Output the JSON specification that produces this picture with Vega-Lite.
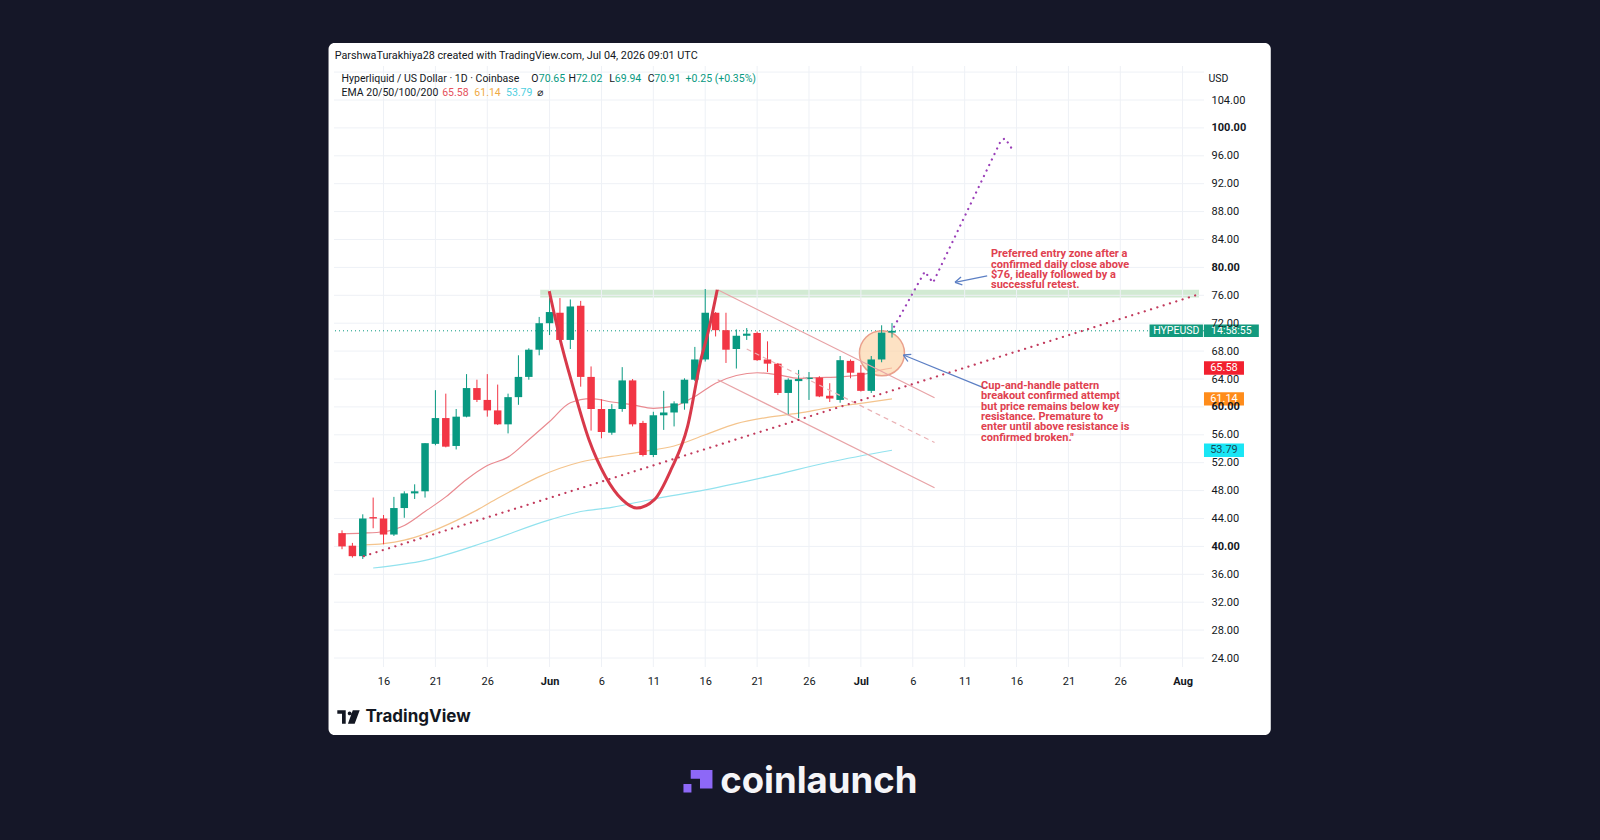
{
  "$schema": "https://vega.github.io/schema/vega-lite/v6.json",
  "width": 870,
  "height": 601,
  "autosize": {"type": "none"},
  "padding": {"left": 334, "top": 66, "right": 396, "bottom": 173},
  "background": "#151728",
  "view": {"stroke": null, "fill": null},
  "datasets": {
    "candles": [
      {"date": "2026-05-12", "open": 41.9, "high": 42.3, "low": 39.6, "close": 40.0},
      {"date": "2026-05-13", "open": 40.1, "high": 40.5, "low": 38.4, "close": 38.6},
      {"date": "2026-05-14", "open": 38.6, "high": 44.6, "low": 38.2, "close": 44.0},
      {"date": "2026-05-15", "open": 44.2, "high": 47.0, "low": 42.6, "close": 44.0},
      {"date": "2026-05-16", "open": 44.0, "high": 44.5, "low": 40.3, "close": 41.7},
      {"date": "2026-05-17", "open": 41.7, "high": 47.1, "low": 41.5, "close": 45.5},
      {"date": "2026-05-18", "open": 45.5, "high": 47.9, "low": 44.1, "close": 47.6},
      {"date": "2026-05-19", "open": 47.6, "high": 48.9, "low": 46.8, "close": 47.9},
      {"date": "2026-05-20", "open": 47.9, "high": 54.8, "low": 47.0, "close": 54.8},
      {"date": "2026-05-21", "open": 54.7, "high": 62.4, "low": 54.5, "close": 58.4},
      {"date": "2026-05-22", "open": 58.4, "high": 61.9, "low": 54.2, "close": 54.3},
      {"date": "2026-05-23", "open": 54.4, "high": 59.7, "low": 53.9, "close": 58.6},
      {"date": "2026-05-24", "open": 58.6, "high": 64.7, "low": 58.5, "close": 62.7},
      {"date": "2026-05-25", "open": 62.7, "high": 63.9, "low": 60.7, "close": 61.0},
      {"date": "2026-05-26", "open": 61.0, "high": 64.7, "low": 58.6, "close": 59.5},
      {"date": "2026-05-27", "open": 59.5, "high": 63.2, "low": 57.4, "close": 57.5},
      {"date": "2026-05-28", "open": 57.5, "high": 61.9, "low": 56.2, "close": 61.4},
      {"date": "2026-05-29", "open": 61.4, "high": 67.4, "low": 60.3, "close": 64.3},
      {"date": "2026-05-30", "open": 64.3, "high": 68.4, "low": 63.9, "close": 68.2},
      {"date": "2026-05-31", "open": 68.2, "high": 72.9, "low": 67.4, "close": 72.0},
      {"date": "2026-06-01", "open": 72.0, "high": 75.6, "low": 70.3, "close": 73.6},
      {"date": "2026-06-02", "open": 73.5, "high": 75.6, "low": 69.4, "close": 69.6},
      {"date": "2026-06-03", "open": 69.6, "high": 75.4, "low": 68.3, "close": 74.4},
      {"date": "2026-06-04", "open": 74.5, "high": 75.2, "low": 62.9, "close": 64.3},
      {"date": "2026-06-05", "open": 64.3, "high": 65.8, "low": 56.6, "close": 59.7},
      {"date": "2026-06-06", "open": 59.7, "high": 61.1, "low": 55.5, "close": 56.4},
      {"date": "2026-06-07", "open": 56.3, "high": 60.4, "low": 56.0, "close": 59.7},
      {"date": "2026-06-08", "open": 59.7, "high": 65.7, "low": 59.3, "close": 63.8},
      {"date": "2026-06-09", "open": 63.8, "high": 64.0, "low": 57.2, "close": 57.5},
      {"date": "2026-06-10", "open": 57.7, "high": 58.0, "low": 52.9, "close": 53.1},
      {"date": "2026-06-11", "open": 53.1, "high": 59.3, "low": 52.8, "close": 58.8},
      {"date": "2026-06-12", "open": 58.8, "high": 62.3, "low": 56.7, "close": 59.2},
      {"date": "2026-06-13", "open": 59.2, "high": 60.8, "low": 57.2, "close": 60.5},
      {"date": "2026-06-14", "open": 60.5, "high": 64.1, "low": 59.6, "close": 63.9},
      {"date": "2026-06-15", "open": 63.9, "high": 68.6, "low": 63.7, "close": 66.8},
      {"date": "2026-06-16", "open": 66.8, "high": 76.9, "low": 66.5, "close": 73.5},
      {"date": "2026-06-17", "open": 73.5, "high": 73.6, "low": 70.1, "close": 71.0},
      {"date": "2026-06-18", "open": 71.0, "high": 73.5, "low": 66.3, "close": 68.2},
      {"date": "2026-06-19", "open": 68.3, "high": 71.1, "low": 65.5, "close": 70.2},
      {"date": "2026-06-20", "open": 70.2, "high": 71.3, "low": 69.6, "close": 70.5},
      {"date": "2026-06-21", "open": 70.6, "high": 70.8, "low": 66.6, "close": 66.7},
      {"date": "2026-06-22", "open": 66.8, "high": 69.4, "low": 65.0, "close": 66.2},
      {"date": "2026-06-23", "open": 66.2, "high": 66.3, "low": 61.7, "close": 62.0},
      {"date": "2026-06-24", "open": 62.0, "high": 64.1, "low": 58.8, "close": 63.9},
      {"date": "2026-06-25", "open": 63.7, "high": 65.3, "low": 58.4, "close": 64.0},
      {"date": "2026-06-26", "open": 64.0, "high": 65.0, "low": 61.0, "close": 64.2},
      {"date": "2026-06-27", "open": 64.2, "high": 64.4, "low": 61.4, "close": 61.5},
      {"date": "2026-06-28", "open": 61.6, "high": 63.4, "low": 60.7, "close": 61.2},
      {"date": "2026-06-29", "open": 61.0, "high": 67.3, "low": 60.6, "close": 66.7},
      {"date": "2026-06-30", "open": 66.6, "high": 66.8, "low": 64.1, "close": 64.9},
      {"date": "2026-07-01", "open": 64.9, "high": 66.0, "low": 62.2, "close": 62.3},
      {"date": "2026-07-02", "open": 62.3, "high": 67.3, "low": 62.0, "close": 66.8},
      {"date": "2026-07-03", "open": 66.8, "high": 71.7, "low": 66.4, "close": 70.65},
      {"date": "2026-07-04", "open": 70.65, "high": 72.02, "low": 69.94, "close": 70.91}
    ],
    "ema": [
      {"date": "2026-05-12", "ema": 41.8, "series": "EMA 20"},
      {"date": "2026-05-14", "ema": 41.9, "series": "EMA 20"},
      {"date": "2026-05-16", "ema": 42.1, "series": "EMA 20"},
      {"date": "2026-05-18", "ema": 43.0, "series": "EMA 20"},
      {"date": "2026-05-20", "ema": 45.0, "series": "EMA 20"},
      {"date": "2026-05-22", "ema": 47.1, "series": "EMA 20"},
      {"date": "2026-05-24", "ema": 49.6, "series": "EMA 20"},
      {"date": "2026-05-26", "ema": 51.6, "series": "EMA 20"},
      {"date": "2026-05-28", "ema": 52.8, "series": "EMA 20"},
      {"date": "2026-05-30", "ema": 55.3, "series": "EMA 20"},
      {"date": "2026-06-01", "ema": 57.9, "series": "EMA 20"},
      {"date": "2026-06-03", "ema": 60.6, "series": "EMA 20"},
      {"date": "2026-06-05", "ema": 61.2, "series": "EMA 20"},
      {"date": "2026-06-07", "ema": 60.7, "series": "EMA 20"},
      {"date": "2026-06-09", "ema": 60.3, "series": "EMA 20"},
      {"date": "2026-06-11", "ema": 59.8, "series": "EMA 20"},
      {"date": "2026-06-13", "ema": 60.1, "series": "EMA 20"},
      {"date": "2026-06-15", "ema": 61.5, "series": "EMA 20"},
      {"date": "2026-06-17", "ema": 63.4, "series": "EMA 20"},
      {"date": "2026-06-19", "ema": 64.5, "series": "EMA 20"},
      {"date": "2026-06-21", "ema": 64.9, "series": "EMA 20"},
      {"date": "2026-06-23", "ema": 64.6, "series": "EMA 20"},
      {"date": "2026-06-25", "ema": 64.1, "series": "EMA 20"},
      {"date": "2026-06-27", "ema": 64.2, "series": "EMA 20"},
      {"date": "2026-06-29", "ema": 64.3, "series": "EMA 20"},
      {"date": "2026-07-01", "ema": 64.6, "series": "EMA 20"},
      {"date": "2026-07-03", "ema": 65.3, "series": "EMA 20"},
      {"date": "2026-07-04", "ema": 65.58, "series": "EMA 20"},
      {"date": "2026-05-14", "ema": 40.2, "series": "EMA 50"},
      {"date": "2026-05-16", "ema": 40.4, "series": "EMA 50"},
      {"date": "2026-05-18", "ema": 40.9, "series": "EMA 50"},
      {"date": "2026-05-20", "ema": 41.8, "series": "EMA 50"},
      {"date": "2026-05-23", "ema": 43.7, "series": "EMA 50"},
      {"date": "2026-05-25", "ema": 45.2, "series": "EMA 50"},
      {"date": "2026-05-27", "ema": 46.9, "series": "EMA 50"},
      {"date": "2026-05-29", "ema": 48.5, "series": "EMA 50"},
      {"date": "2026-05-31", "ema": 50.0, "series": "EMA 50"},
      {"date": "2026-06-02", "ema": 51.2, "series": "EMA 50"},
      {"date": "2026-06-04", "ema": 52.1, "series": "EMA 50"},
      {"date": "2026-06-07", "ema": 52.9, "series": "EMA 50"},
      {"date": "2026-06-10", "ema": 53.6, "series": "EMA 50"},
      {"date": "2026-06-13", "ema": 54.4, "series": "EMA 50"},
      {"date": "2026-06-16", "ema": 56.0, "series": "EMA 50"},
      {"date": "2026-06-19", "ema": 57.6, "series": "EMA 50"},
      {"date": "2026-06-22", "ema": 58.5, "series": "EMA 50"},
      {"date": "2026-06-25", "ema": 59.1, "series": "EMA 50"},
      {"date": "2026-06-28", "ema": 59.9, "series": "EMA 50"},
      {"date": "2026-07-01", "ema": 60.5, "series": "EMA 50"},
      {"date": "2026-07-04", "ema": 61.14, "series": "EMA 50"},
      {"date": "2026-05-15", "ema": 36.9, "series": "EMA 100"},
      {"date": "2026-05-20", "ema": 38.0, "series": "EMA 100"},
      {"date": "2026-05-26", "ema": 40.7, "series": "EMA 100"},
      {"date": "2026-06-01", "ema": 43.8, "series": "EMA 100"},
      {"date": "2026-06-04", "ema": 45.0, "series": "EMA 100"},
      {"date": "2026-06-07", "ema": 45.6, "series": "EMA 100"},
      {"date": "2026-06-11", "ema": 46.8, "series": "EMA 100"},
      {"date": "2026-06-16", "ema": 48.1, "series": "EMA 100"},
      {"date": "2026-06-22", "ema": 50.0, "series": "EMA 100"},
      {"date": "2026-06-28", "ema": 52.1, "series": "EMA 100"},
      {"date": "2026-07-04", "ema": 53.79, "series": "EMA 100"}
    ],
    "drawings": [
      {"shape": "cup", "t": "2026-05-31T23:17:00Z", "p": 76.6},
      {"shape": "cup", "t": "2026-06-02T00:00:00Z", "p": 69.8},
      {"shape": "cup", "t": "2026-06-03T04:48:00Z", "p": 63.2},
      {"shape": "cup", "t": "2026-06-04T19:12:00Z", "p": 55.3},
      {"shape": "cup", "t": "2026-06-06T09:36:00Z", "p": 50.0},
      {"shape": "cup", "t": "2026-06-08T00:00:00Z", "p": 46.7},
      {"shape": "cup", "t": "2026-06-09T09:36:00Z", "p": 45.5},
      {"shape": "cup", "t": "2026-06-11T02:24:00Z", "p": 46.7},
      {"shape": "cup", "t": "2026-06-12T16:48:00Z", "p": 51.0},
      {"shape": "cup", "t": "2026-06-14T07:12:00Z", "p": 57.2},
      {"shape": "cup", "t": "2026-06-15T13:41:00Z", "p": 66.7},
      {"shape": "cup", "t": "2026-06-16T07:55:00Z", "p": 71.0},
      {"shape": "cup", "t": "2026-06-17T03:50:00Z", "p": 76.8},
      {"shape": "upper", "t": "2026-06-17T04:48:00Z", "p": 76.8},
      {"shape": "upper", "t": "2026-07-08T02:24:00Z", "p": 61.3},
      {"shape": "lower", "t": "2026-06-17T04:48:00Z", "p": 63.9},
      {"shape": "lower", "t": "2026-07-08T02:24:00Z", "p": 48.4},
      {"shape": "median", "t": "2026-06-20T00:00:00Z", "p": 68.3},
      {"shape": "median", "t": "2026-07-08T02:24:00Z", "p": 54.9},
      {"shape": "support", "t": "2026-05-14T02:24:00Z", "p": 38.6},
      {"shape": "support", "t": "2026-08-02T13:12:00Z", "p": 76.13},
      {"shape": "path", "t": "2026-07-04T04:48:00Z", "p": 71.5},
      {"shape": "path", "t": "2026-07-07T03:50:00Z", "p": 79.4},
      {"shape": "path", "t": "2026-07-07T22:48:00Z", "p": 77.8},
      {"shape": "path", "t": "2026-07-14T12:00:00Z", "p": 98.2},
      {"shape": "path", "t": "2026-07-14T21:36:00Z", "p": 98.5},
      {"shape": "path", "t": "2026-07-15T14:24:00Z", "p": 96.9},
      {"shape": "arrow1", "t": "2026-07-13T04:05:00Z", "p": 78.77},
      {"shape": "arrow1", "t": "2026-07-10T01:41:00Z", "p": 77.86},
      {"shape": "arrow1a", "t": "2026-07-10T18:43:00Z", "p": 77.48},
      {"shape": "arrow1a", "t": "2026-07-10T01:41:00Z", "p": 77.86},
      {"shape": "arrow1b", "t": "2026-07-10T15:36:00Z", "p": 78.61},
      {"shape": "arrow1b", "t": "2026-07-10T01:41:00Z", "p": 77.86},
      {"shape": "arrow2", "t": "2026-07-12T23:31:00Z", "p": 62.67},
      {"shape": "arrow2", "t": "2026-07-05T02:24:00Z", "p": 67.44},
      {"shape": "arrow2a", "t": "2026-07-05T12:43:00Z", "p": 66.51},
      {"shape": "arrow2a", "t": "2026-07-05T02:24:00Z", "p": 67.44},
      {"shape": "arrow2b", "t": "2026-07-05T20:38:00Z", "p": 67.54},
      {"shape": "arrow2b", "t": "2026-07-05T02:24:00Z", "p": 67.44}
    ],
    "notes": [
      {"note": "Preferred entry zone after a\nconfirmed daily close above\n$76, ideally followed by a\nsuccessful retest.", "t": "2026-07-13T13:00:00Z", "p": 82.75},
      {"note": "Cup-and-handle pattern\nbreakout confirmed attempt\nbut price remains below key\nresistance. Premature to\nenter until above resistance is\nconfirmed broken.\"", "t": "2026-07-12T14:00:00Z", "p": 63.85}
    ],
    "legend": [
      {"txt": "Hyperliquid / US Dollar · 1D · Coinbase", "t": "2026-05-11T23:00:00Z", "p": 107.0, "tone": "base"},
      {"txt": "O", "t": "2026-05-30T05:31:00Z", "p": 107.0, "tone": "base"},
      {"txt": "70.65", "t": "2026-05-30T23:02:00Z", "p": 107.0, "tone": "up"},
      {"txt": "H", "t": "2026-06-02T19:55:00Z", "p": 107.0, "tone": "base"},
      {"txt": "72.02", "t": "2026-06-03T12:58:00Z", "p": 107.0, "tone": "up"},
      {"txt": "L", "t": "2026-06-06T17:46:00Z", "p": 107.0, "tone": "base"},
      {"txt": "69.94", "t": "2026-06-07T06:58:00Z", "p": 107.0, "tone": "up"},
      {"txt": "C", "t": "2026-06-10T10:48:00Z", "p": 107.0, "tone": "base"},
      {"txt": "70.91", "t": "2026-06-11T02:10:00Z", "p": 107.0, "tone": "up"},
      {"txt": "+0.25 (+0.35%)", "t": "2026-06-14T02:38:00Z", "p": 107.0, "tone": "up"},
      {"txt": "EMA 20/50/100/200", "t": "2026-05-11T23:00:00Z", "p": 104.96, "tone": "base"},
      {"txt": "65.58", "t": "2026-05-21T15:40:00Z", "p": 104.96, "tone": "ema20"},
      {"txt": "61.14", "t": "2026-05-24T18:00:00Z", "p": 104.96, "tone": "ema50"},
      {"txt": "53.79", "t": "2026-05-27T19:12:00Z", "p": 104.96, "tone": "ema100"},
      {"txt": "⌀", "t": "2026-05-30T19:26:00Z", "p": 104.96, "tone": "base"}
    ],
    "header": [
      {"txt": "ParshwaTurakhiya28 created with TradingView.com, Jul 04, 2026 09:01 UTC", "t": "2026-05-11T07:00:00Z", "p": 110.38}
    ],
    "tags": [
      {"label": "65.58", "p": 65.58, "kind": "EMA 20"},
      {"label": "61.14", "p": 61.14, "kind": "EMA 50"},
      {"label": "53.79", "p": 53.79, "kind": "EMA 100"}
    ],
    "ticker": [{"sym": "HYPEUSD", "clock": "14:58:55", "p": 70.91}],
    "zones": [{"t": "2026-05-31T02:24:00Z", "t2": "2026-08-02T14:00:00Z", "hi": 76.8, "lo": 75.7}],
    "circles": [{"t": "2026-07-03T00:43:00Z", "p": 67.7}],
    "gridP": [
      {"p": 24}, {"p": 28}, {"p": 32}, {"p": 36}, {"p": 40}, {"p": 44}, {"p": 48}, {"p": 52},
      {"p": 56}, {"p": 60}, {"p": 64}, {"p": 68}, {"p": 72}, {"p": 76}, {"p": 80}, {"p": 84},
      {"p": 88}, {"p": 92}, {"p": 96}, {"p": 100}, {"p": 104}, {"p": 108}
    ],
    "gridT": [
      {"t": "2026-05-16"}, {"t": "2026-05-21"}, {"t": "2026-05-26"}, {"t": "2026-06-01"},
      {"t": "2026-06-06"}, {"t": "2026-06-11"}, {"t": "2026-06-16"}, {"t": "2026-06-21"},
      {"t": "2026-06-26"}, {"t": "2026-07-01"}, {"t": "2026-07-06"}, {"t": "2026-07-11"},
      {"t": "2026-07-16"}, {"t": "2026-07-21"}, {"t": "2026-07-26"}, {"t": "2026-08-01"}
    ],
    "brand": [
      {"name": "TradingView", "t": "2026-05-14T06:00:00Z", "p": 15.54, "logoT": "2026-05-12T15:00:00Z"},
      {"name": "coinlaunch", "t": "2026-06-17T10:34:00Z", "p": 4.65, "logoT": "2026-06-15T07:12:00Z"}
    ]
  },
  "layer": [
    {
      "data": {"values": [{"panel": "card"}]},
      "mark": {"type": "rect", "color": "#ffffff", "cornerRadius": 6, "clip": false},
      "encoding": {
        "x": {
          "datum": {"year": 2026, "month": "may", "date": 10, "hours": 16, "minutes": 48, "utc": true},
          "type": "temporal",
          "scale": {
            "type": "utc",
            "domain": [
              {"year": 2026, "month": "may", "date": 11, "hours": 17, "utc": true},
              {"year": 2026, "month": "aug", "date": 2, "hours": 14, "utc": true}
            ]
          },
          "axis": {
            "values": [
              {"year": 2026, "month": "may", "date": 16, "utc": true},
              {"year": 2026, "month": "may", "date": 21, "utc": true},
              {"year": 2026, "month": "may", "date": 26, "utc": true},
              {"year": 2026, "month": "jun", "date": 1, "utc": true},
              {"year": 2026, "month": "jun", "date": 6, "utc": true},
              {"year": 2026, "month": "jun", "date": 11, "utc": true},
              {"year": 2026, "month": "jun", "date": 16, "utc": true},
              {"year": 2026, "month": "jun", "date": 21, "utc": true},
              {"year": 2026, "month": "jun", "date": 26, "utc": true},
              {"year": 2026, "month": "jul", "date": 1, "utc": true},
              {"year": 2026, "month": "jul", "date": 6, "utc": true},
              {"year": 2026, "month": "jul", "date": 11, "utc": true},
              {"year": 2026, "month": "jul", "date": 16, "utc": true},
              {"year": 2026, "month": "jul", "date": 21, "utc": true},
              {"year": 2026, "month": "jul", "date": 26, "utc": true},
              {"year": 2026, "month": "aug", "date": 1, "utc": true}
            ],
            "tickCount": 40,
            "labelExpr": "utcdate(datum.value) == 1 ? utcFormat(datum.value, '%b') : utcFormat(datum.value, '%-d')",
            "labelFontWeight": {"condition": {"test": "utcdate(datum.value) == 1", "value": "bold"}, "value": "normal"},
            "labelFontSize": 11,
            "labelColor": "#131722",
            "labelPadding": 8,
            "ticks": false,
            "domain": false,
            "grid": false,
            "title": null,
            "labelOverlap": false,
            "labelFlush": false,
            "zindex": 1
          }
        },
        "x2": {"datum": {"year": 2026, "month": "aug", "date": 9, "hours": 12, "utc": true}},
        "y": {
          "datum": 112.17,
          "type": "quantitative",
          "scale": {"domain": [22.71, 108.875], "nice": false, "zero": false},
          "axis": {
            "orient": "right",
            "values": [24, 28, 32, 36, 40, 44, 48, 52, 56, 60, 64, 68, 72, 76, 80, 84, 88, 92, 96, 100, 104],
            "tickCount": 40,
            "format": ".2f",
            "labelFontSize": 11,
            "labelColor": "#131722",
            "labelPadding": 7,
            "labelOverlap": false,
            "labelFontWeight": {"condition": {"test": "datum.value % 20 == 0", "value": "bold"}, "value": "normal"},
            "ticks": false,
            "domain": false,
            "grid": false,
            "title": null,
            "zindex": 1
          }
        },
        "y2": {"datum": 12.96}
      }
    },
    {
      "data": {"name": "zones"},
      "mark": {"type": "rect", "color": "#a5d6a7", "opacity": 0.5},
      "encoding": {
        "x": {"field": "t", "type": "temporal"},
        "x2": {"field": "t2"},
        "y": {"field": "hi", "type": "quantitative"},
        "y2": {"field": "lo"}
      }
    },
    {
      "data": {"name": "gridP"},
      "mark": {"type": "rule", "color": "#eef1f6", "strokeWidth": 1},
      "encoding": {"y": {"field": "p", "type": "quantitative"}}
    },
    {
      "data": {"name": "gridT"},
      "mark": {"type": "rule", "color": "#eef1f6", "strokeWidth": 1},
      "encoding": {"x": {"field": "t", "type": "temporal"}}
    },
    {
      "data": {"name": "ticker"},
      "mark": {"type": "rule", "color": "#089981", "strokeWidth": 1, "strokeDash": [1, 3]},
      "encoding": {"y": {"field": "p", "type": "quantitative"}}
    },
    {
      "data": {"name": "ema"},
      "mark": {"type": "line", "strokeWidth": 1.2, "interpolate": "monotone"},
      "encoding": {
        "x": {"field": "date", "type": "temporal"},
        "y": {"field": "ema", "type": "quantitative"},
        "detail": {"field": "series"},
        "stroke": {
          "field": "series",
          "type": "nominal",
          "scale": {"domain": ["EMA 20", "EMA 50", "EMA 100"], "range": ["#e98a90", "#f4c48d", "#92e2ee"]},
          "legend": null
        }
      }
    },
    {
      "data": {"name": "circles"},
      "mark": {"type": "point", "shape": "circle", "size": 2025, "filled": true, "fill": "#fcd3a5", "fillOpacity": 0.65, "stroke": "#eaa08c", "strokeWidth": 1.5, "strokeOpacity": 1},
      "encoding": {
        "x": {"field": "t", "type": "temporal"},
        "y": {"field": "p", "type": "quantitative"}
      }
    },
    {
      "data": {"name": "candles"},
      "mark": {"type": "rule", "strokeWidth": 1},
      "encoding": {
        "x": {"field": "date", "type": "temporal"},
        "y": {"field": "low", "type": "quantitative"},
        "y2": {"field": "high"},
        "color": {"condition": {"test": "datum.close >= datum.open", "value": "#089981"}, "value": "#f23645"}
      }
    },
    {
      "data": {"name": "candles"},
      "mark": {"type": "bar", "width": 7.5},
      "encoding": {
        "x": {"field": "date", "type": "temporal"},
        "y": {"field": "open", "type": "quantitative"},
        "y2": {"field": "close"},
        "color": {"condition": {"test": "datum.close >= datum.open", "value": "#089981"}, "value": "#f23645"}
      }
    },
    {
      "data": {"name": "drawings"},
      "transform": [{"filter": {"field": "shape", "oneOf": ["upper", "lower"]}}],
      "mark": {"type": "line", "color": "#e8a3a6", "strokeWidth": 1.2},
      "encoding": {
        "x": {"field": "t", "type": "temporal"},
        "y": {"field": "p", "type": "quantitative"},
        "detail": {"field": "shape"}
      }
    },
    {
      "data": {"name": "drawings"},
      "transform": [{"filter": {"field": "shape", "equal": "median"}}],
      "mark": {"type": "line", "color": "#eab2b5", "strokeWidth": 1.2, "strokeDash": [5, 4]},
      "encoding": {
        "x": {"field": "t", "type": "temporal"},
        "y": {"field": "p", "type": "quantitative"}
      }
    },
    {
      "data": {"name": "drawings"},
      "transform": [{"filter": {"field": "shape", "equal": "support"}}],
      "mark": {"type": "line", "color": "#c23a5c", "strokeWidth": 2.2, "strokeDash": [0.1, 6.5], "strokeCap": "round", "clip": true},
      "encoding": {
        "x": {"field": "t", "type": "temporal"},
        "y": {"field": "p", "type": "quantitative"}
      }
    },
    {
      "data": {"name": "drawings"},
      "transform": [{"filter": {"field": "shape", "equal": "path"}}],
      "mark": {"type": "line", "color": "#9a3fb8", "strokeWidth": 2.2, "strokeDash": [0.1, 6], "strokeCap": "round"},
      "encoding": {
        "x": {"field": "t", "type": "temporal"},
        "y": {"field": "p", "type": "quantitative"}
      }
    },
    {
      "data": {"name": "drawings"},
      "transform": [{"filter": {"field": "shape", "equal": "cup"}}],
      "mark": {"type": "line", "color": "#d8394a", "strokeWidth": 3, "interpolate": "monotone"},
      "encoding": {
        "x": {"field": "t", "type": "temporal"},
        "y": {"field": "p", "type": "quantitative"}
      }
    },
    {
      "data": {"name": "drawings"},
      "transform": [{"filter": {"field": "shape", "oneOf": ["arrow1", "arrow1a", "arrow1b", "arrow2", "arrow2a", "arrow2b"]}}],
      "mark": {"type": "line", "color": "#5c7fc4", "strokeWidth": 1.3, "clip": false},
      "encoding": {
        "x": {"field": "t", "type": "temporal"},
        "y": {"field": "p", "type": "quantitative"},
        "detail": {"field": "shape"}
      }
    },
    {
      "data": {"name": "notes"},
      "mark": {"type": "text", "align": "left", "baseline": "top", "lineBreak": "\n", "lineHeight": 10.3, "fontSize": 11, "fontWeight": "bold", "color": "#e0414f", "clip": false},
      "encoding": {
        "x": {"field": "t", "type": "temporal"},
        "y": {"field": "p", "type": "quantitative"},
        "text": {"field": "note"}
      }
    },
    {
      "data": {"name": "header"},
      "mark": {"type": "text", "align": "left", "baseline": "middle", "fontSize": 10.8, "color": "#131722", "clip": false},
      "encoding": {
        "x": {"field": "t", "type": "temporal"},
        "y": {"field": "p", "type": "quantitative"},
        "text": {"field": "txt"}
      }
    },
    {
      "data": {"name": "legend"},
      "mark": {"type": "text", "align": "left", "baseline": "middle", "fontSize": 10.5, "font": "Roboto, DejaVu Sans", "clip": false},
      "encoding": {
        "x": {"field": "t", "type": "temporal"},
        "y": {"field": "p", "type": "quantitative"},
        "text": {"field": "txt"},
        "color": {
          "condition": [
            {"test": "datum.tone == 'up'", "value": "#089981"},
            {"test": "datum.tone == 'ema20'", "value": "#e5525c"},
            {"test": "datum.tone == 'ema50'", "value": "#f0aa45"},
            {"test": "datum.tone == 'ema100'", "value": "#4fcfdf"}
          ],
          "value": "#131722"
        }
      }
    },
    {
      "data": {"name": "ticker"},
      "mark": {"type": "point", "shape": "M-1,-0.232H1V0.232H-1Z", "size": 2852, "filled": true, "color": "#139a7e", "opacity": 1, "clip": false},
      "encoding": {
        "x": {"datum": {"year": 2026, "month": "jul", "date": 31, "hours": 9, "minutes": 22, "utc": true}, "type": "temporal"},
        "y": {"field": "p", "type": "quantitative"}
      }
    },
    {
      "data": {"name": "ticker"},
      "mark": {"type": "text", "align": "center", "baseline": "middle", "fontSize": 10.5, "color": "#ffffff", "clip": false},
      "encoding": {
        "x": {"datum": {"year": 2026, "month": "jul", "date": 31, "hours": 9, "minutes": 22, "utc": true}, "type": "temporal"},
        "y": {"field": "p", "type": "quantitative"},
        "text": {"field": "sym"}
      }
    },
    {
      "data": {"name": "ticker"},
      "mark": {"type": "point", "shape": "M-1,-0.225H1V0.225H-1Z", "size": 3025, "filled": true, "color": "#139a7e", "opacity": 1, "clip": false},
      "encoding": {
        "x": {"datum": {"year": 2026, "month": "aug", "date": 5, "hours": 16, "minutes": 48, "utc": true}, "type": "temporal"},
        "y": {"field": "p", "type": "quantitative"}
      }
    },
    {
      "data": {"name": "ticker"},
      "mark": {"type": "text", "align": "center", "baseline": "middle", "fontSize": 10.5, "color": "#ffffff", "clip": false},
      "encoding": {
        "x": {"datum": {"year": 2026, "month": "aug", "date": 5, "hours": 16, "minutes": 48, "utc": true}, "type": "temporal"},
        "y": {"field": "p", "type": "quantitative"},
        "text": {"field": "clock"}
      }
    },
    {
      "data": {"name": "tags"},
      "mark": {"type": "point", "shape": "M-1,-0.333H1V0.333H-1Z", "size": 1600, "filled": true, "opacity": 1, "clip": false},
      "encoding": {
        "x": {"datum": {"year": 2026, "month": "aug", "date": 4, "hours": 23, "minutes": 46, "utc": true}, "type": "temporal"},
        "y": {"field": "p", "type": "quantitative"},
        "color": {
          "condition": [
            {"test": "datum.kind == 'EMA 20'", "value": "#f2202f"},
            {"test": "datum.kind == 'EMA 50'", "value": "#ff8c1a"}
          ],
          "value": "#19e6f5"
        }
      }
    },
    {
      "data": {"name": "tags"},
      "mark": {"type": "text", "align": "center", "baseline": "middle", "fontSize": 11, "clip": false},
      "encoding": {
        "x": {"datum": {"year": 2026, "month": "aug", "date": 4, "hours": 23, "minutes": 46, "utc": true}, "type": "temporal"},
        "y": {"field": "p", "type": "quantitative"},
        "text": {"field": "label"},
        "color": {"condition": {"test": "datum.kind == 'EMA 100'", "value": "#1a4b57"}, "value": "#ffffff"}
      }
    },
    {
      "data": {"values": [{"unit": "USD", "p": 107.08}]},
      "mark": {"type": "text", "align": "left", "baseline": "middle", "fontSize": 10.5, "color": "#131722", "clip": false},
      "encoding": {
        "x": {"datum": {"year": 2026, "month": "aug", "date": 3, "hours": 12, "utc": true}, "type": "temporal"},
        "y": {"field": "p", "type": "quantitative"},
        "text": {"field": "unit"}
      }
    },
    {
      "data": {"name": "brand"},
      "transform": [{"filter": "datum.name == 'TradingView'"}],
      "mark": {"type": "text", "align": "left", "baseline": "middle", "font": "Inter", "fontSize": 17, "fontWeight": "bold", "color": "#131722", "clip": false},
      "encoding": {
        "x": {"field": "t", "type": "temporal"},
        "y": {"field": "p", "type": "quantitative"},
        "text": {"field": "name"}
      }
    },
    {
      "data": {"name": "brand"},
      "transform": [{"filter": "datum.name == 'TradingView'"}],
      "mark": {"type": "point", "shape": "M-1,-0.6H-0.25V0.6H-0.58V-0.28H-1Z M-0.07,-0.32A0.17,0.17 0 1,0 0.27,-0.32A0.17,0.17 0 1,0 -0.07,-0.32Z M0.38,-0.6H1L0.55,0.6H-0.05Z", "size": 502, "filled": true, "color": "#131722", "opacity": 1, "clip": false},
      "encoding": {
        "x": {"field": "logoT", "type": "temporal"},
        "y": {"field": "p", "type": "quantitative"}
      }
    },
    {
      "data": {"name": "brand"},
      "transform": [{"filter": "datum.name == 'coinlaunch'"}],
      "mark": {"type": "text", "align": "left", "baseline": "alphabetic", "font": "Inter", "fontSize": 36.5, "fontWeight": "bold", "color": "#f5f5f8", "clip": false},
      "encoding": {
        "x": {"field": "t", "type": "temporal"},
        "y": {"field": "p", "type": "quantitative"},
        "text": {"field": "name"}
      }
    },
    {
      "data": {"name": "brand"},
      "transform": [{"filter": "datum.name == 'coinlaunch'"}],
      "mark": {"type": "point", "shape": "M-0.5,-0.79H1V0.48H0.14V-0.19H-0.5Z M-1,0.18H-0.45V0.76H-1Z", "size": 841, "filled": true, "color": "#8d68f7", "opacity": 1, "clip": false},
      "encoding": {
        "x": {"field": "logoT", "type": "temporal"},
        "y": {"datum": 6.3, "type": "quantitative"}
      }
    }
  ],
  "config": {
    "font": "Roboto, DejaVu Sans",
    "axis": {"labelFont": "Roboto"}
  }
}
